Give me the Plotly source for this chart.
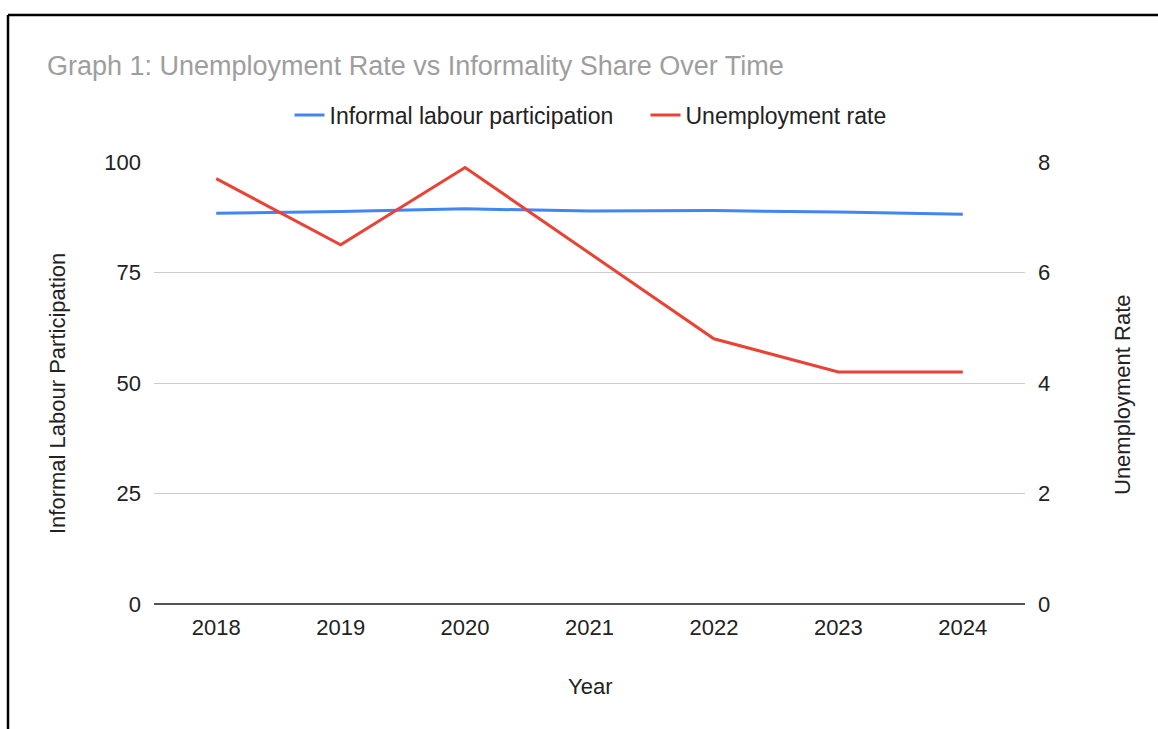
import plotly.graph_objects as go

years = ["2018", "2019", "2020", "2021", "2022", "2023", "2024"]
informal_participation = [88.4, 88.8, 89.4, 88.9, 89.0, 88.7, 88.2]
unemployment_rate = [7.7, 6.5, 7.9, 6.35, 4.8, 4.2, 4.2]

left_ticks = [0, 25, 50, 75, 100]
right_ticks = [0, 2, 4, 6, 8]

FONT = "Liberation Sans, Arial, sans-serif"

fig = go.Figure()
fig.add_trace(go.Scatter(
    x=years, y=informal_participation, name="Informal labour participation",
    mode="lines", line=dict(color="#4285F4", width=3), yaxis="y"))
fig.add_trace(go.Scatter(
    x=years, y=unemployment_rate, name="Unemployment rate",
    mode="lines", line=dict(color="#EA4335", width=3), yaxis="y2"))

fig.update_layout(
    width=1158, height=729,
    margin=dict(l=154, r=133, t=162, b=125),
    paper_bgcolor="white", plot_bgcolor="white",
    font=dict(family=FONT, size=22, color="#222222"),
    title=dict(text="Graph 1: Unemployment Rate vs Informality Share Over Time",
               x=47 / 1158, xanchor="left", xref="container",
               y=1 - 66 / 729, yanchor="middle", yref="container",
               font=dict(family=FONT, size=27, color="#9e9e9e")),
    showlegend=True,
    legend=dict(orientation="h", x=0.5 + 56 / 871, xanchor="center", y=(604 - 115) / 442,
                yanchor="middle", font=dict(family=FONT, size=23, color="#222222"),
                bgcolor="rgba(0,0,0,0)", traceorder="normal", entrywidth=311),
    xaxis=dict(type="category", range=[-0.5, 6.5], showgrid=False, showline=False,
               zeroline=False, ticks="", ticklabelstandoff=8,
               tickfont=dict(family=FONT, size=22, color="#222222")),
    yaxis=dict(range=[0, 100], tickvals=left_ticks, ticktext=[str(v) for v in left_ticks],
               showgrid=True, gridcolor="#cccccc", gridwidth=1,
               zeroline=True, zerolinecolor="#555555", zerolinewidth=2,
               showline=False, ticks="", ticklabelstandoff=12,
               tickfont=dict(family=FONT, size=22, color="#222222")),
    yaxis2=dict(range=[0, 8], tickvals=right_ticks, ticktext=[str(v) for v in right_ticks],
                overlaying="y", side="right", showgrid=False, zeroline=False,
                showline=False, ticks="", ticklabelstandoff=12,
                tickfont=dict(family=FONT, size=22, color="#222222")),
)

# axis titles
fig.add_annotation(text="Informal Labour Participation", xref="paper", yref="paper",
                   x=(57 - 154) / 871, y=(604 - 394) / 442, textangle=-90,
                   xanchor="center", yanchor="middle",
                   showarrow=False, font=dict(family=FONT, size=22, color="#222222"))
fig.add_annotation(text="Unemployment Rate", xref="paper", yref="paper",
                   x=(1122 - 154) / 871, y=(604 - 395) / 442, textangle=-90,
                   xanchor="center", yanchor="middle",
                   showarrow=False, font=dict(family=FONT, size=22, color="#222222"))
fig.add_annotation(text="Year", xref="paper", yref="paper",
                   x=0.5, y=(604 - 686) / 442, xanchor="center", yanchor="middle",
                   showarrow=False, font=dict(family=FONT, size=22, color="#222222"))

# outer frame (screenshot border)
fx = (8 - 154) / 871
fy = (604 - 15) / 442
fig.add_shape(type="line", xref="paper", yref="paper", x0=fx, x1=fx, y0=-1, y1=fy,
              line=dict(color="black", width=2.5))
fig.add_shape(type="line", xref="paper", yref="paper", x0=fx, x1=1.5, y0=fy, y1=fy,
              line=dict(color="black", width=2.5))

fig.write_html("out.html")
